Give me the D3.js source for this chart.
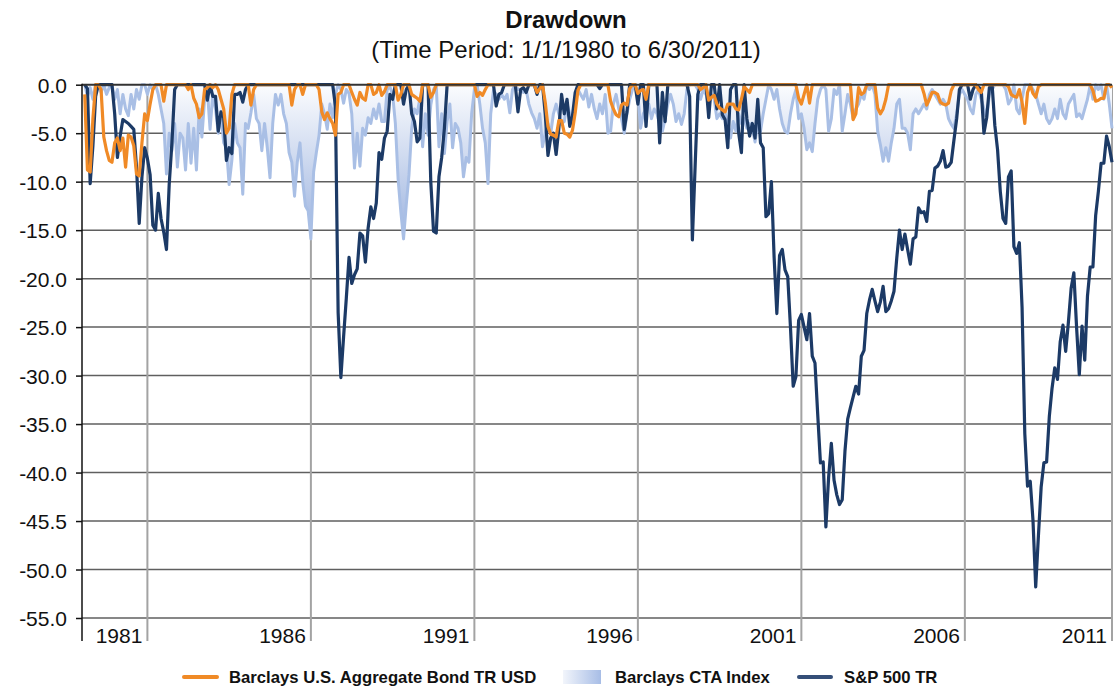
<!DOCTYPE html>
<html><head><meta charset="utf-8">
<script src="https://cdn.jsdelivr.net/npm/d3@7/dist/d3.min.js"></script>
<style>
body{margin:0;background:#fff;}
svg{display:block;font-family:"Liberation Sans",Arial,sans-serif;}
</style></head><body>
<svg id="chart" width="1115" height="688"></svg>
<script>
// ---------- data ----------
const titleText = "Drawdown";
const subtitleText = "(Time Period: 1/1/1980 to 6/30/2011)";
const yTicks = [0,-5,-10,-15,-20,-25,-30,-35,-40,-45,-50,-55];
const yTickLabels = ["0.0","-5.0","-10.0","-15.0","-20.0","-25.0","-30.0","-35.0","-40.0","-45.5","-50.0","-55.0"];
const yearLabels = ["1981","1986","1991","1996","2001","2006","2011"];
const yearEnds  = ["1981-12","1986-12","1991-12","1996-12","2001-12","2006-12","2011-06"];
const seriesNames = ["Barclays U.S. Aggregate Bond TR USD","Barclays CTA Index","S&P 500 TR"];
const startMonth = "1980-01";
const endMonth = "2011-06";

// Barclays CTA Index drawdown, monthly from 1980-01
const ctaValues = [
 0,-1.2,-0.3,-1.5,0,0,-0.8,0,-1.0,-0.3,0,-1.5,            //1980
 -0.5,-3.0,-1.0,-2.5,-3.2,-1.0,-2.5,-0.5,-1.5,0,0,-1.0,   //1981
 0,-0.5,0,-1.0,-2.5,-4.0,-9.2,-5.0,-6.8,-4.0,-8.5,-5.0,   //1982
 -5.5,-8.8,-4.0,-8.1,-4.5,-8.8,-2.5,-5.4,-1.5,-0.5,-4.6,-1.0, //1983
 -2.5,-5.0,-3.0,-6.0,-6.5,-10.3,-7.8,-4.0,-6.0,-6.5,-11.3,-4.0, //1984
 -4.5,-2.9,-1.0,-3.5,-4.0,-6.8,-4.0,-6.5,-9.6,-4.0,-1.0,-2.1, //1985
 -1.0,-3.0,-4.0,-7.0,-8.0,-11.5,-8.0,-6.0,-10.0,-12.5,-13.0,-15.9, //1986
 -9.0,-7.0,-5.2,-2.0,-3.0,-4.6,-2.0,-3.4,-1.0,0,-0.5,-1.9, //1987
 -0.5,-0.9,-3.0,-8.6,-5.0,-8.4,-4.5,-5.2,-3.4,-4.0,-2.5,-3.5, //1988
 -2.0,-3.8,-3.8,-0.5,-0.2,-1.0,-4.0,-9.7,-13.1,-15.9,-12.4,-9.3, //1989
 -4.5,-2.5,-3.0,-1.4,-6.4,-3.0,-5.2,-2.1,-0.5,0,-6.4,-3.0, //1990
 -7.1,-3.8,-2.0,-6.5,-4.0,-4.5,-6.0,-9.5,-7.5,-8.0,-3.0,-0.5, //1991
 0,-2.0,-4.5,-6.0,-10.2,-3.0,-0.6,-1.0,-1.5,-1.0,-1.5,-1.0, //1992
 -2.9,-0.5,0,-0.5,-0.5,-0.8,-0.5,-2.0,-2.9,-3.5,-4.5,-3.0, //1993
 -6.4,-5.0,-4.0,-5.1,-3.0,-2.0,-3.0,-4.0,-3.8,-2.0,-3.0,-4.1, //1994
 -1.5,-0.5,-1.0,-1.5,-0.5,-2.3,-1.0,-2.5,-3.5,-2.0,-3.0,-1.0, //1995
 -5.0,-4.8,-2.0,-1.0,-2.5,-3.5,-5.0,-3.0,-1.5,-0.5,0,-1.0, //1996
 -4.5,-3.0,-2.5,-2.0,-3.5,-2.5,-3.0,-4.1,-4.8,-3.5,-2.0,-1.0, //1997
 -2.0,-3.8,-3.0,-4.1,-3.0,-0.5,0,0,0,-0.5,-1.5,-0.5,        //1998
 -1.0,-2.0,-1.0,-1.5,-3.5,-3.0,-3.5,-2.9,-4.0,-5.5,-3.8,-4.8, //1999
 -3.0,-4.0,-3.5,-4.5,-4.0,-4.5,-5.9,-4.0,-4.8,-3.0,-1.5,0,   //2000
 -0.5,-1.5,-0.5,-2.5,-4.0,-4.8,-5.0,-3.0,-1.5,-0.5,-3.5,-3.0, //2001
 -4.5,-6.7,-6.0,-6.9,-4.0,-1.5,-0.5,0,-0.5,-4.8,-3.5,-0.5,  //2002
 -1.0,0,-4.8,-3.0,-1.0,-2.0,-3.5,-2.5,-2.0,-1.0,-1.5,0,     //2003
 -0.5,0,-1.0,-4.8,-6.2,-7.9,-6.5,-7.9,-6.0,-4.5,-2.0,-1.5,  //2004
 -4.5,-4.5,-5.0,-6.7,-3.0,-2.5,-3.0,-2.5,-2.0,-2.5,-1.0,-0.5, //2005
 -1.0,-1.5,-2.0,-1.5,-2.0,-3.5,-4.1,-4.5,-3.0,-1.0,-0.5,-1.0, //2006
 -1.5,-2.5,-3.0,-1.0,-0.5,-1.5,-2.5,-3.5,-1.0,-0.5,0,0,     //2007
 0,0,-0.5,-2.0,-1.5,0,-2.5,-3.0,-1.5,0,0,0,                 //2008
 -0.5,-1.0,-2.0,-3.0,-2.0,-3.5,-4.0,-3.5,-2.5,-3.5,-1.5,-3.0, //2009
 -3.5,-2.0,-1.5,-1.0,-3.3,-3.0,-3.5,-2.5,-1.5,0,-1.5,0,     //2010
 -0.5,0,-1.5,0,-2.0,-4.5                                   //2011
];

// S&P 500 TR drawdown (month, value)
const spPoints = [
["1980-01",0],["1980-02",-0.4],["1980-03",-10.2],["1980-04",-6.3],["1980-05",-1.2],["1980-06",0],["1980-11",0],["1980-12",-3.0],
["1981-01",-7.5],["1981-02",-5.3],["1981-03",-3.6],["1981-04",-3.8],["1981-05",-4.0],["1981-06",-4.3],["1981-07",-4.6],["1981-08",-8.5],["1981-09",-14.3],["1981-10",-9.5],["1981-11",-6.5],["1981-12",-7.6],
["1982-01",-9.3],["1982-02",-14.5],["1982-03",-15.0],["1982-04",-11.2],["1982-05",-13.8],["1982-06",-15.2],["1982-07",-17.0],["1982-08",-10.3],["1982-09",-6.0],["1982-10",-0.5],["1982-11",0],
["1983-09",0],["1983-10",-1.6],["1983-11",0],["1983-12",-1.2],
["1984-01",-1.2],["1984-02",-4.8],["1984-03",-2.8],["1984-04",-3.4],["1984-05",-7.8],["1984-06",-6.5],["1984-07",-7.1],["1984-08",-1.0],["1984-09",-1.0],["1984-10",-0.8],["1984-11",-1.8],["1984-12",-0.5],["1985-01",0],
["1987-08",0],["1987-09",-2.2],["1987-10",-23.5],["1987-11",-30.2],["1987-12",-26.0],
["1988-01",-22.0],["1988-02",-17.8],["1988-03",-20.5],["1988-04",-19.6],["1988-05",-19.0],["1988-06",-15.3],["1988-07",-15.6],["1988-08",-18.3],["1988-09",-14.8],["1988-10",-12.6],["1988-11",-13.8],["1988-12",-12.2],
["1989-01",-7.0],["1989-02",-7.7],["1989-03",-5.5],["1989-04",-4.8],["1989-05",-1.0],["1989-06",-1.5],["1989-07",0],["1989-09",0],["1989-10",-2.0],["1989-11",-0.5],["1989-12",0],
["1990-01",-3.0],["1990-02",-3.8],["1990-03",-5.9],["1990-04",-5.5],["1990-05",0],["1990-07",0],["1990-08",-10.0],["1990-09",-15.1],["1990-10",-15.3],["1990-11",-9.5],["1990-12",-7.5],["1991-01",-4.5],["1991-02",0],
["1992-07",0],["1992-08",-2.2],["1992-09",-1.0],["1992-10",-0.8],["1992-11",0],
["1993-03",0],["1993-04",-2.8],["1993-05",-0.5],["1993-06",-0.3],["1993-07",-0.8],["1993-08",0],["1993-10",0],["1993-11",-1.0],["1993-12",0],
["1994-01",0],["1994-02",-3.0],["1994-03",-7.3],["1994-04",-5.5],["1994-05",-5.0],["1994-06",-7.2],["1994-07",-4.5],["1994-08",-1.0],["1994-09",-3.0],["1994-10",-1.5],["1994-11",-4.3],["1994-12",-3.2],["1995-01",-0.8],["1995-02",0],
["1995-09",0],["1995-10",-0.4],["1995-11",0],
["1996-06",0],["1996-07",-4.6],["1996-08",-2.8],["1996-09",0],["1996-11",0],["1996-12",-2.0],["1997-01",0],["1997-02",0],["1997-03",-4.3],["1997-04",0],["1997-07",0],["1997-08",-6.0],["1997-09",-0.8],["1997-10",-3.8],["1997-11",0],
["1998-06",0],["1998-07",-1.2],["1998-08",-16.0],["1998-09",-8.5],["1998-10",-1.0],["1998-11",0],["1999-01",0],["1999-02",-3.4],["1999-03",0],["1999-04",0],["1999-05",-2.5],["1999-06",0],["1999-07",-3.1],["1999-08",-3.6],["1999-09",-6.5],["1999-10",-0.5],["1999-11",0],["1999-12",0],
["2000-01",-5.0],["2000-02",-7.0],["2000-03",0],["2000-04",-3.5],["2000-05",-5.3],["2000-06",-4.0],["2000-07",-5.5],["2000-08",-1.5],["2000-09",-6.0],["2000-10",-6.5],["2000-11",-13.6],["2000-12",-13.3],
["2001-01",-10.0],["2001-02",-17.8],["2001-03",-23.6],["2001-04",-17.6],["2001-05",-17.0],["2001-06",-19.1],["2001-07",-19.8],["2001-08",-25.0],["2001-09",-31.1],["2001-10",-30.1],["2001-11",-24.3],["2001-12",-23.7],
["2002-01",-25.0],["2002-02",-26.3],["2002-03",-23.6],["2002-04",-28.0],["2002-05",-28.7],["2002-06",-34.0],["2002-07",-39.0],["2002-08",-38.9],["2002-09",-45.6],["2002-10",-40.5],["2002-11",-37.0],["2002-12",-40.8],
["2003-01",-42.3],["2003-02",-43.3],["2003-03",-42.8],["2003-04",-37.8],["2003-05",-34.5],["2003-06",-33.3],["2003-07",-32.2],["2003-08",-31.1],["2003-09",-31.9],["2003-10",-28.0],["2003-11",-27.4],["2003-12",-23.6],
["2004-01",-22.2],["2004-02",-21.1],["2004-03",-22.3],["2004-04",-23.4],["2004-05",-22.4],["2004-06",-20.8],["2004-07",-23.4],["2004-08",-23.1],["2004-09",-22.3],["2004-10",-21.3],["2004-11",-17.9],["2004-12",-15.0],
["2005-01",-17.0],["2005-02",-15.4],["2005-03",-17.0],["2005-04",-18.5],["2005-05",-15.9],["2005-06",-15.7],["2005-07",-12.7],["2005-08",-13.2],["2005-09",-13.1],["2005-10",-14.1],["2005-11",-11.0],["2005-12",-10.9],
["2006-01",-8.6],["2006-02",-8.4],["2006-03",-7.9],["2006-04",-6.8],["2006-05",-8.5],["2006-06",-8.4],["2006-07",-8.0],["2006-08",-5.7],["2006-09",-3.5],["2006-10",-0.5],["2006-11",0],
["2007-01",0],["2007-02",-1.5],["2007-03",-0.5],["2007-04",0],["2007-06",-0.5],["2007-07",-5.0],["2007-08",-3.4],["2007-09",-0.3],["2007-10",0],["2007-11",-4.2],["2007-12",-6.7],
["2008-01",-11.0],["2008-02",-13.8],["2008-03",-14.3],["2008-04",-9.5],["2008-05",-8.9],["2008-06",-16.7],["2008-07",-17.4],["2008-08",-16.3],["2008-09",-23.0],["2008-10",-36.0],["2008-11",-41.4],["2008-12",-40.9],
["2009-01",-44.9],["2009-02",-51.8],["2009-03",-46.5],["2009-04",-41.5],["2009-05",-39.0],["2009-06",-38.9],["2009-07",-34.2],["2009-08",-31.3],["2009-09",-29.2],["2009-10",-30.4],["2009-11",-26.5],["2009-12",-24.8],
["2010-01",-27.5],["2010-02",-24.5],["2010-03",-21.0],["2010-04",-19.4],["2010-05",-25.0],["2010-06",-29.9],["2010-07",-24.9],["2010-08",-28.4],["2010-09",-21.8],["2010-10",-18.8],["2010-11",-18.8],["2010-12",-13.5],
["2011-01",-11.0],["2011-02",-8.1],["2011-03",-8.1],["2011-04",-5.3],["2011-05",-6.4],["2011-06",-8.0]
];

// Barclays U.S. Aggregate Bond TR USD drawdown (month, value)
const bondPoints = [
["1980-01",-1.0],["1980-02",-8.8],["1980-03",-9.0],["1980-04",-3.5],["1980-05",0],["1980-06",0],["1980-07",-0.5],["1980-08",-5.4],["1980-09",-6.8],["1980-10",-7.8],["1980-11",-8.0],["1980-12",-6.0],
["1981-01",-5.5],["1981-02",-6.8],["1981-03",-5.5],["1981-04",-8.5],["1981-05",-5.2],["1981-06",-5.4],["1981-07",-6.3],["1981-08",-9.2],["1981-09",-9.4],["1981-10",-6.0],["1981-11",-3.0],["1981-12",-3.7],
["1982-01",-2.0],["1982-02",-0.5],["1982-03",0],["1982-05",0],["1982-06",-1.7],["1982-07",0],
["1983-02",0],["1983-03",-0.5],["1983-04",0],["1983-05",-1.4],["1983-06",-2.0],["1983-07",-3.4],["1983-08",-3.0],["1983-09",-0.5],["1983-10",-0.3],["1983-11",0],["1983-12",-0.3],
["1984-01",0],["1984-02",-0.5],["1984-03",-1.5],["1984-04",-2.5],["1984-05",-5.0],["1984-06",-4.5],["1984-07",-1.0],["1984-08",0],
["1985-01",0],["1985-02",-2.1],["1985-03",-0.5],["1985-04",0],
["1986-04",0],["1986-05",-2.1],["1986-06",-0.5],["1986-07",0],["1986-08",0],["1986-09",-1.0],["1986-10",0],
["1987-02",0],["1987-03",-0.5],["1987-04",-2.8],["1987-05",-3.6],["1987-06",-2.9],["1987-07",-3.5],["1987-08",-4.0],["1987-09",-5.2],["1987-10",-1.0],["1987-11",-0.8],["1987-12",0],
["1988-02",0],["1988-03",-0.8],["1988-04",-1.5],["1988-05",-2.1],["1988-06",-0.8],["1988-07",-1.4],["1988-08",-1.6],["1988-09",0],["1988-10",0],["1988-11",-1.0],["1988-12",-0.8],
["1989-01",0],["1989-02",-1.1],["1989-03",-0.7],["1989-04",0],["1989-07",0],["1989-08",-1.6],["1989-09",-1.0],["1989-10",0],["1989-12",0],
["1990-01",-1.0],["1990-02",-1.2],["1990-03",-1.4],["1990-04",-1.7],["1990-05",0],["1990-07",0],["1990-08",-1.3],["1990-09",-0.8],["1990-10",0],
["1991-12",0],["1992-01",-1.2],["1992-02",-0.8],["1992-03",-1.1],["1992-04",-0.5],["1992-05",0],
["1993-10",0],["1993-11",-0.8],["1993-12",-0.4],
["1994-01",0],["1994-02",-1.8],["1994-03",-4.3],["1994-04",-5.1],["1994-05",-5.2],["1994-06",-5.4],["1994-07",-3.7],["1994-08",-3.7],["1994-09",-5.0],["1994-10",-5.1],["1994-11",-5.4],["1994-12",-4.7],
["1995-01",-2.9],["1995-02",-0.6],["1995-03",0],
["1996-01",0],["1996-02",-1.7],["1996-03",-2.5],["1996-04",-3.1],["1996-05",-3.3],["1996-06",-2.1],["1996-07",-1.9],["1996-08",-2.1],["1996-09",-0.4],["1996-10",0],["1996-11",0],["1996-12",-0.9],
["1997-01",-0.6],["1997-02",-0.5],["1997-03",-1.5],["1997-04",0],
["1998-10",0],["1998-11",-0.5],["1998-12",-0.3],
["1999-01",0],["1999-02",-1.6],["1999-03",-1.3],["1999-04",-1.1],["1999-05",-2.0],["1999-06",-2.4],["1999-07",-2.6],["1999-08",-2.8],["1999-09",-2.0],["1999-10",-2.0],["1999-11",-2.0],["1999-12",-2.5],
["2000-01",-2.6],["2000-02",-1.5],["2000-03",-0.2],["2000-04",-0.5],["2000-05",-0.8],["2000-06",0],
["2001-10",0],["2001-11",-1.4],["2001-12",-2.0],["2002-01",-1.0],["2002-02",0],["2002-03",-1.9],["2002-04",0],
["2003-06",0],["2003-07",-3.6],["2003-08",-3.0],["2003-09",-0.3],["2003-10",-1.0],["2003-11",-0.8],["2003-12",0],
["2004-03",0],["2004-04",-2.4],["2004-05",-3.0],["2004-06",-2.5],["2004-07",-1.5],["2004-08",0],
["2005-08",0],["2005-09",-0.9],["2005-10",-2.1],["2005-11",-1.5],["2005-12",-0.8],
["2006-01",-0.8],["2006-02",-1.0],["2006-03",-1.8],["2006-04",-2.0],["2006-05",-2.1],["2006-06",-1.9],["2006-07",-0.6],["2006-08",0],
["2007-04",0],["2007-05",-0.5],["2007-06",-0.8],["2007-07",0],
["2008-03",0],["2008-04",-0.2],["2008-05",-1.0],["2008-06",-1.2],["2008-07",-1.3],["2008-08",-0.5],["2008-09",-1.8],["2008-10",-4.0],["2008-11",-0.8],["2008-12",0],
["2009-01",-0.9],["2009-02",-1.3],["2009-03",-0.2],["2009-04",0],
["2010-10",0],["2010-11",-0.6],["2010-12",-1.7],["2011-01",-1.6],["2011-02",-1.4],["2011-03",-1.4],["2011-04",0],["2011-05",0],["2011-06",-0.3]
];

// ---------- helpers ----------
const monthIndex = s => { const [yy,mm] = s.split("-").map(Number); return (yy-1980)*12 + (mm-1); };
const nMonths = monthIndex(endMonth) - monthIndex(startMonth) + 1; // 378
const ctaData = ctaValues.map((v,i)=>[i, v]);
const spData = spPoints.map(d=>[monthIndex(d[0]), d[1]]);
const bondData = bondPoints.map(d=>[monthIndex(d[0]), d[1]]);

// ---------- layout ----------
const svg = d3.select("#chart");
const plotLeft = 82, plotRight = 1112, plotTop = 84.7, plotBottom = 618;
const axisBottom = 641;

const x = d3.scaleLinear().domain([0, nMonths]).range([plotLeft, plotRight]);
const xm = i => x(i + 1); // plotted at month end
const y = d3.scaleLinear().domain([0, -55]).range([plotTop, plotBottom]);

const defs = svg.append("defs");
const g1 = defs.append("linearGradient").attr("id","ctaFill")
  .attr("gradientUnits","userSpaceOnUse").attr("x1",0).attr("x2",0)
  .attr("y1", y(0)).attr("y2", y(-16));
g1.append("stop").attr("offset","0").attr("stop-color","#fbfcfe");
g1.append("stop").attr("offset","1").attr("stop-color","#9cb3df");
const g2 = defs.append("linearGradient").attr("id","ctaLegend")
  .attr("x1","0").attr("x2","1").attr("y1","0").attr("y2","0");
g2.append("stop").attr("offset","0").attr("stop-color","#f2f5fb");
g2.append("stop").attr("offset","1").attr("stop-color","#a7bde6");

// titles
svg.append("text").attr("x", 566).attr("y", 28).attr("text-anchor","middle")
  .attr("font-size", 24).attr("font-weight","bold").attr("fill","#111").text(titleText);
svg.append("text").attr("x", 566).attr("y", 58).attr("text-anchor","middle")
  .attr("font-size", 24).attr("fill","#111").text(subtitleText);

// horizontal gridlines
svg.append("g").selectAll("line").data(yTicks.filter(d=>d!==0)).join("line")
  .attr("x1", plotLeft).attr("x2", plotRight).attr("y1", d=>y(d)).attr("y2", d=>y(d))
  .attr("stroke","#5f5f5f").attr("stroke-width",1.5);

// vertical gridlines at year ends
svg.append("g").selectAll("line").data(yearEnds).join("line")
  .attr("x1", d=>xm(monthIndex(d))).attr("x2", d=>xm(monthIndex(d)))
  .attr("y1", plotTop).attr("y2", axisBottom)
  .attr("stroke","#a3a3a3").attr("stroke-width",2);

// CTA area
const area = d3.area().x(d=>xm(d[0])).y0(y(0)).y1(d=>y(d[1]));
svg.append("path").datum(ctaData).attr("d", area).attr("fill","url(#ctaFill)");
const line = d3.line().x(d=>xm(d[0])).y(d=>y(d[1]));
svg.append("path").datum(ctaData).attr("d", line).attr("fill","none")
  .attr("stroke","#a9bfe5").attr("stroke-width",3).attr("stroke-linejoin","round");

// S&P line
svg.append("path").datum(spData).attr("d", line).attr("fill","none")
  .attr("stroke","#1c3a66").attr("stroke-width",3.2).attr("stroke-linejoin","round");
// Bond line
svg.append("path").datum(bondData).attr("d", line).attr("fill","none")
  .attr("stroke","#f08a26").attr("stroke-width",3.2).attr("stroke-linejoin","round");

// zero line + left axis
svg.append("line").attr("x1",plotLeft).attr("x2",plotRight).attr("y1",y(0)).attr("y2",y(0))
  .attr("stroke","#333").attr("stroke-width",2);
svg.append("line").attr("x1",plotLeft).attr("x2",plotLeft).attr("y1",y(0)-1).attr("y2",axisBottom)
  .attr("stroke","#111").attr("stroke-width",1.5);

// y axis ticks + labels
const yAxis = d3.axisLeft(y).tickValues(yTicks).tickSize(6).tickPadding(10)
  .tickFormat((d,i)=>yTickLabels[i]);
const ya = svg.append("g").attr("transform",`translate(${plotLeft},0)`).call(yAxis);
ya.select(".domain").remove();
ya.selectAll(".tick line").attr("stroke","#111").attr("stroke-width",1.5);
ya.selectAll(".tick text").attr("font-size",21).attr("fill","#111")
  .attr("font-family","'Liberation Sans',Arial,sans-serif").attr("dy","0.36em").attr("x",-15);

// x labels, right aligned before each year-end gridline
svg.append("g").selectAll("text").data(yearLabels).join("text")
  .attr("x",(d,i)=>xm(monthIndex(yearEnds[i])) - 5).attr("y", 643)
  .attr("text-anchor","end").attr("font-size",21).attr("fill","#111").text(d=>d);

// legend
const legendY = 677;
const lg = svg.append("g").attr("font-size",16.7).attr("font-weight","bold").attr("fill","#111");
lg.append("line").attr("x1",184).attr("x2",217).attr("y1",legendY).attr("y2",legendY)
  .attr("stroke","#f08a26").attr("stroke-width",4).attr("stroke-linecap","round");
lg.append("text").attr("x",229).attr("y",legendY+6).text(seriesNames[0]);
lg.append("rect").attr("x",563).attr("y",legendY-7).attr("width",38).attr("height",14)
  .attr("fill","url(#ctaLegend)");
lg.append("text").attr("x",615).attr("y",legendY+6).text(seriesNames[1]);
lg.append("line").attr("x1",799).attr("x2",831).attr("y1",legendY).attr("y2",legendY)
  .attr("stroke","#354f78").attr("stroke-width",4).attr("stroke-linecap","round");
lg.append("text").attr("x",844).attr("y",legendY+6).text(seriesNames[2]);
</script>
</body></html>
